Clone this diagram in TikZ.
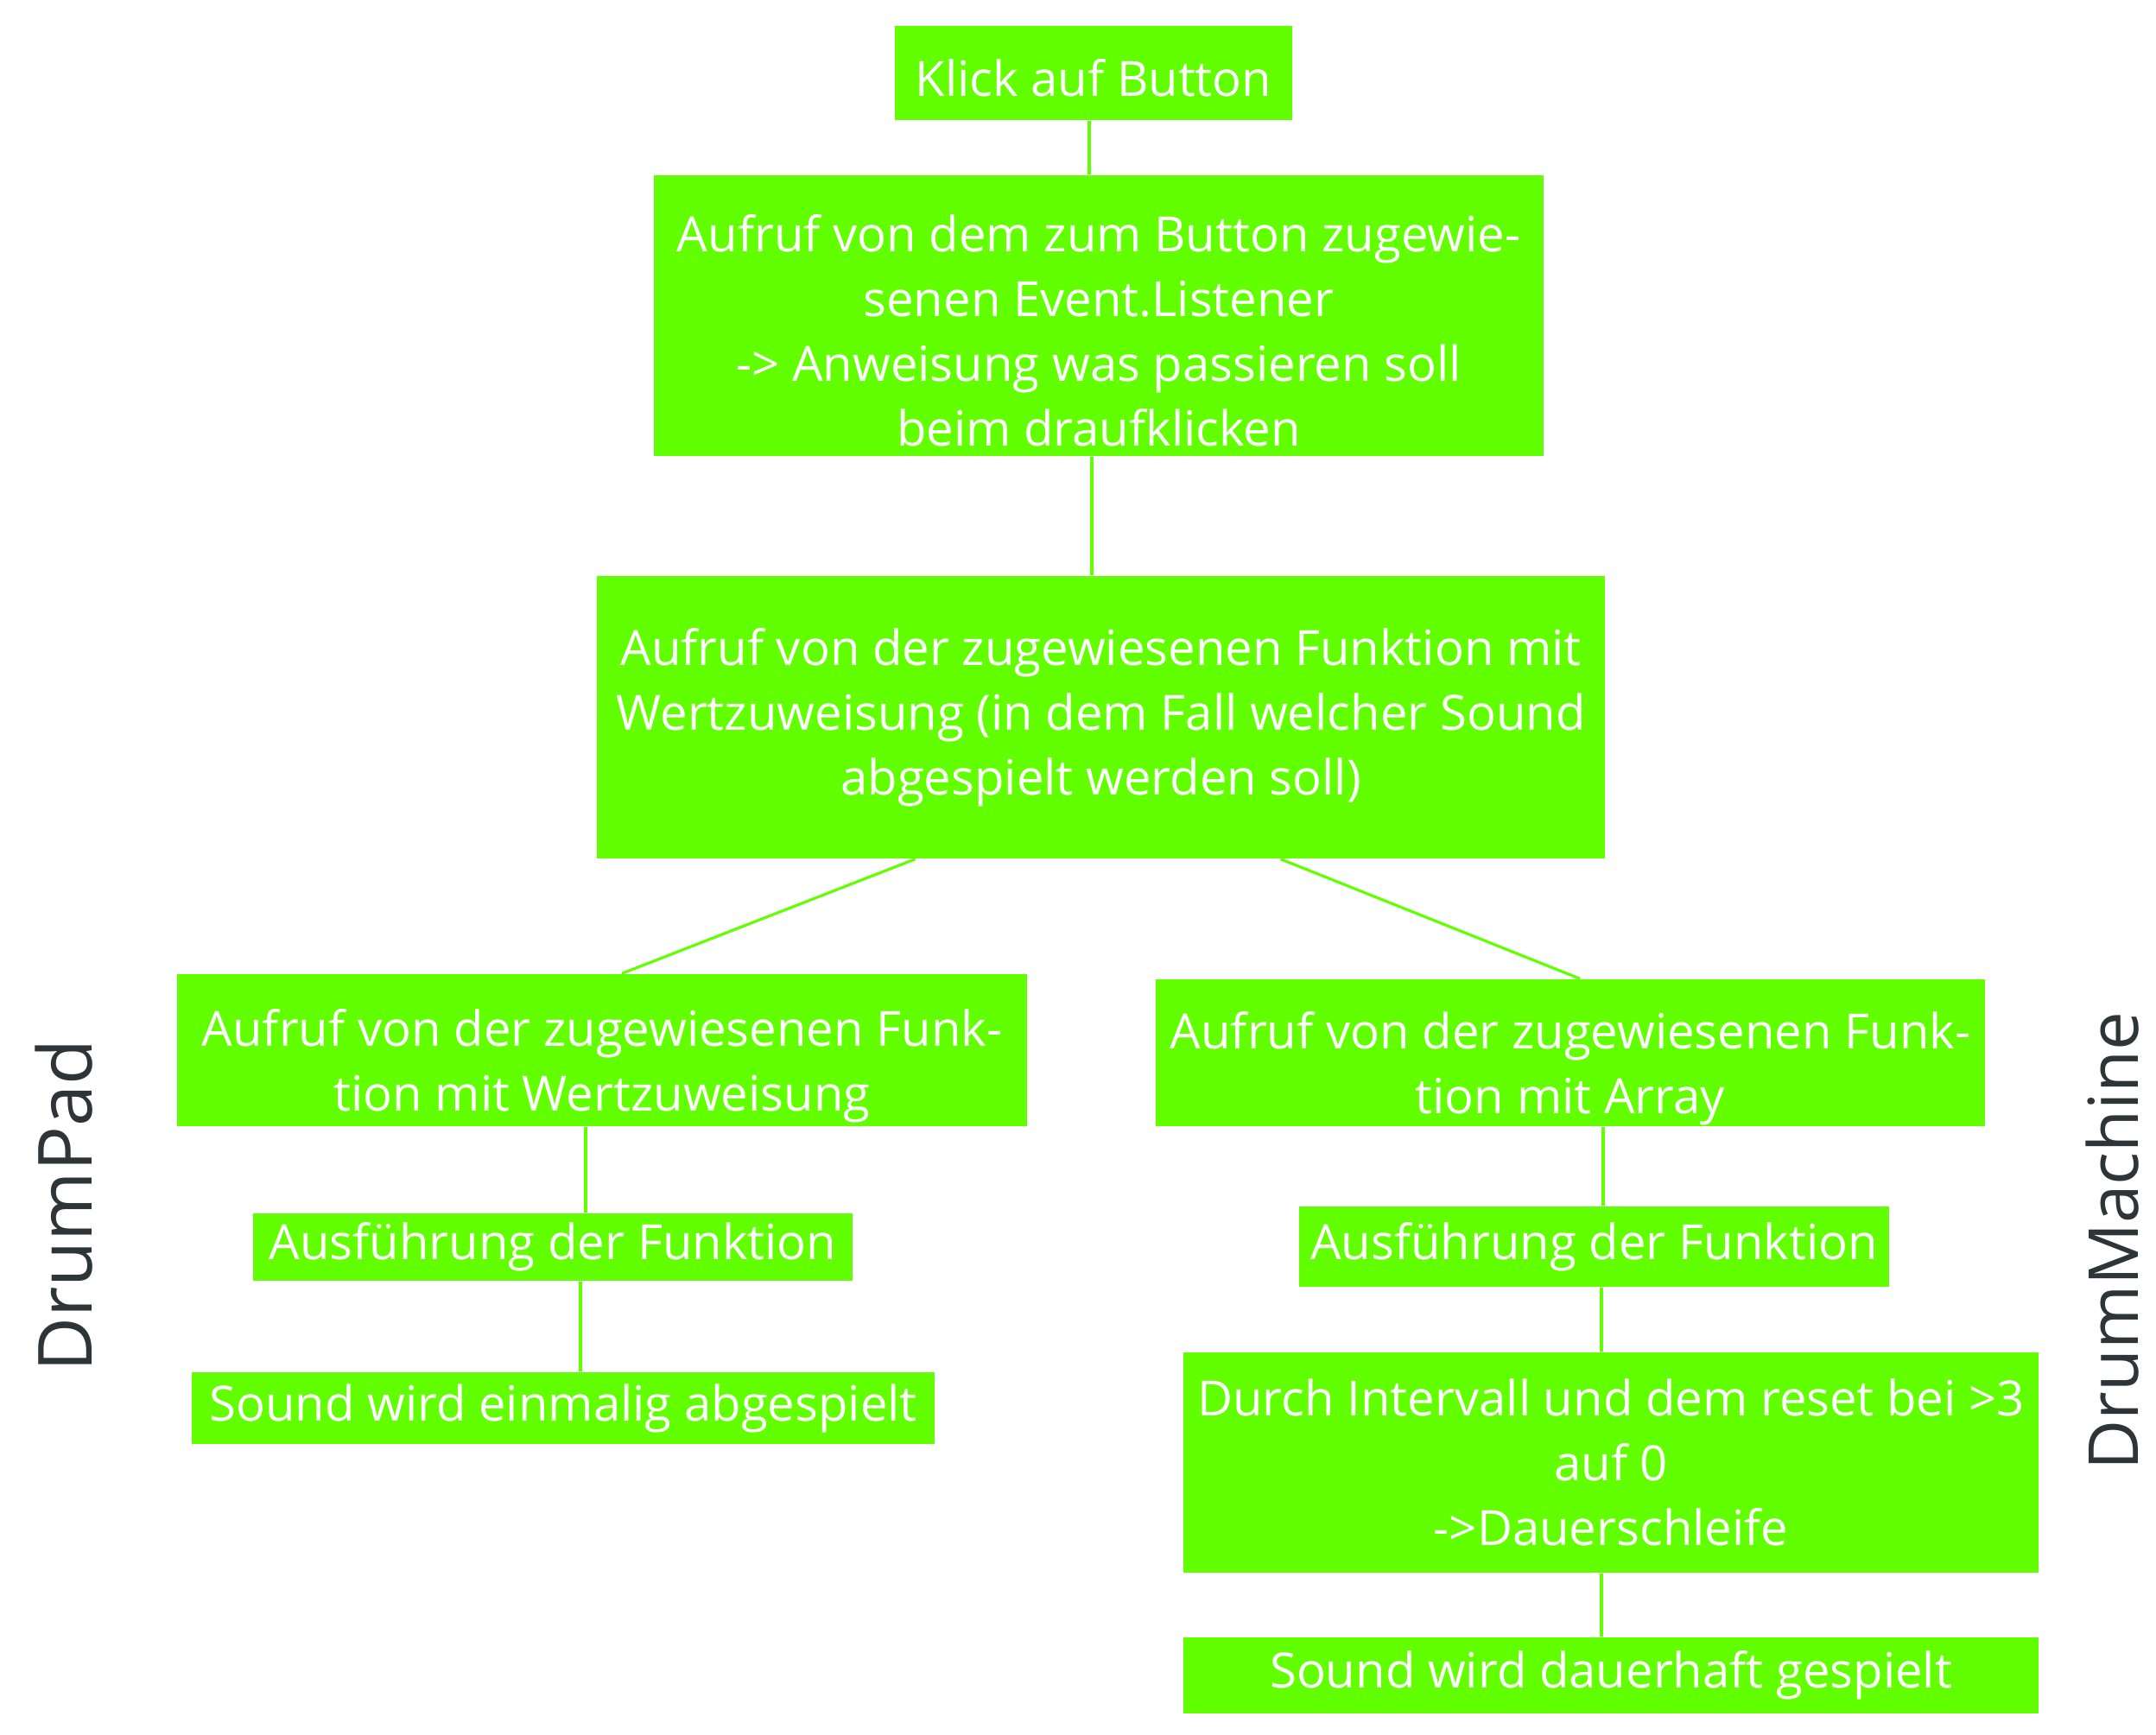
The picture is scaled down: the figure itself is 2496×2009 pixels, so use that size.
\documentclass[tikz,border=0pt]{standalone}
\usepackage{fontspec}
\setmainfont{Open Sans}
\definecolor{padgreen}{RGB}{98,255,0}
\definecolor{labelgrey}{RGB}{45,53,56}
\newcommand\boxstrut[1]{\rule{0pt}{#1}}
\begin{document}
\begin{tikzpicture}[x=0.01cm,y=-0.01cm,
  box/.style={fill=padgreen,text=white,inner sep=0pt,align=center,
    font=\fontsize{16}{21.3}\selectfont},
  link/.style={draw=padgreen,line width=0.9pt},
  side/.style={text=labelgrey,rotate=90}]
\useasboundingbox (0,0) rectangle (2496,2009);

% top of the chain
\node[box,minimum width=4.60cm,minimum height=1.09cm] (klick) at (1266,84.5) {\boxstrut{0.55cm}Klick auf Button};
\node[box,minimum width=10.30cm,minimum height=3.25cm] (listener) at (1272,365.5)
  {\boxstrut{0.77cm}Aufruf von dem zum Button zugewie-\\senen Event.Listener\\-> Anweisung was passieren soll\\beim draufklicken};
\node[box,minimum width=11.67cm,minimum height=3.27cm] (aufruf) at (1274.5,830.5)
  {Aufruf von der zugewiesenen Funktion mit\\Wertzuweisung (in dem Fall welcher Sound\\abgespielt werden soll)};

% DrumPad side
\node[box,minimum width=9.84cm,minimum height=1.76cm] (padfunk) at (697,1216)
  {\boxstrut{0.80cm}Aufruf von der zugewiesenen Funk-\\tion mit Wertzuweisung};
\node[box,minimum width=6.94cm,minimum height=0.78cm] (padexec) at (640,1444) {Ausführung der Funktion};
\node[box,minimum width=8.60cm,minimum height=0.83cm] (padsound) at (652,1630.5) {Sound wird einmalig abgespielt};

% DrumMachine side
\node[box,minimum width=9.60cm,minimum height=1.70cm] (machfunk) at (1818,1219)
  {\boxstrut{0.80cm}Aufruf von der zugewiesenen Funk-\\tion mit Array};
\node[box,minimum width=6.83cm,minimum height=0.93cm] (machexec) at (1845.5,1443.5) {Ausführung der Funktion};
\node[box,minimum width=9.90cm,minimum height=2.55cm] (machloop) at (1865,1693.5)
  {Durch Intervall und dem reset bei >3\\auf 0\\->Dauerschleife};
\node[box,minimum width=9.90cm,minimum height=0.88cm] (machsound) at (1865,1940) {Sound wird dauerhaft gespielt};

\node[side,font=\fontsize{24.6}{28}\selectfont] (padlabel) at (74,1396) {DrumPad};
\node[side,font=\fontsize{22.7}{28}\selectfont] (machlabel) at (2446,1437) {DrumMachine};

% connectors
\draw[link] ([xshift=-0.05cm]klick.south) -- ([xshift=-0.05cm]klick.south |- listener.north);
\draw[link] ([xshift=-0.08cm]listener.south) -- ([xshift=-0.08cm]listener.south |- aufruf.north);
\draw[link] ([xshift=-2.15cm]aufruf.south) -- ([xshift=0.23cm]padfunk.north);
\draw[link] ([xshift=2.08cm]aufruf.south) -- ([xshift=0.11cm]machfunk.north);
\draw[link] ([xshift=-0.19cm]padfunk.south) -- ([xshift=-0.19cm]padfunk.south |- padexec.north);
\draw[link] ([xshift=0.32cm]padexec.south) -- ([xshift=0.32cm]padexec.south |- padsound.north);
\draw[link] ([xshift=0.38cm]machfunk.south) -- ([xshift=0.38cm]machfunk.south |- machexec.north);
\draw[link] ([xshift=0.085cm]machexec.south) -- ([xshift=0.085cm]machexec.south |- machloop.north);
\draw[link] ([xshift=-0.11cm]machloop.south) -- ([xshift=-0.11cm]machloop.south |- machsound.north);
\end{tikzpicture}
\end{document}
